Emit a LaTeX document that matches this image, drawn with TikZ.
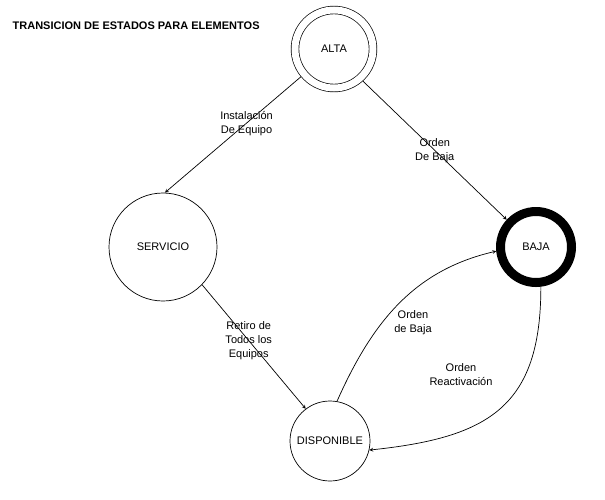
\documentclass[tikz,border=0pt]{standalone}
\usepackage{fontspec}
\setmainfont{Liberation Sans}
\begin{document}
\begin{tikzpicture}[x=1pt,y=1pt,line width=.7pt,
		estado/.style={circle,draw,inner sep=0pt,font=\fontsize{11}{13}\selectfont},
		etiqueta/.style={align=center,font=\fontsize{11}{14}\selectfont}]
			\useasboundingbox (0,0) rectangle (605,-499);
			\node[anchor=west,font=\fontsize{11}{13}\selectfont\bfseries] (titulo) at (9,-26) {TRANSICION DE ESTADOS PARA ELEMENTOS};
			\node[estado,minimum size=78pt,double,double distance=7pt,outer sep=4.1pt] (alta) at (334,-49) {ALTA};
			\node[estado,minimum size=108pt] (servicio) at (163,-247) {SERVICIO};
			\node[estado,minimum size=71pt,line width=9pt,outer sep=4.5pt] (baja) at (536,-247) {BAJA};
			\node[estado,minimum size=80pt] (disponible) at (330,-441) {DISPONIBLE};
			\draw[-stealth] (alta.220) -- (servicio.88) node[etiqueta,pos=.4] (instalacion) {Instalación\\De Equipo};
			\draw[-stealth] (alta.312) -- (baja.137) node[etiqueta,pos=.5] (ordenbaja) {Orden\\De Baja};
			\draw[-stealth] (servicio.316) -- (disponible.127) node[etiqueta,pos=.45] (retiro) {Retiro de\\Todos los\\Equipos};
			\draw[-stealth] (disponible.80) to[out=66,in=193] (baja.186);
			\draw[-stealth] (baja.277) to[out=-90,in=6,looseness=1.3] (disponible.347);
			\path (413,-323) node[etiqueta] (ordenbaja2) {Orden\\de Baja};
			\path (461,-375) node[etiqueta] (reactivacion) {Orden\\Reactivación};
\end{tikzpicture}
\end{document}
